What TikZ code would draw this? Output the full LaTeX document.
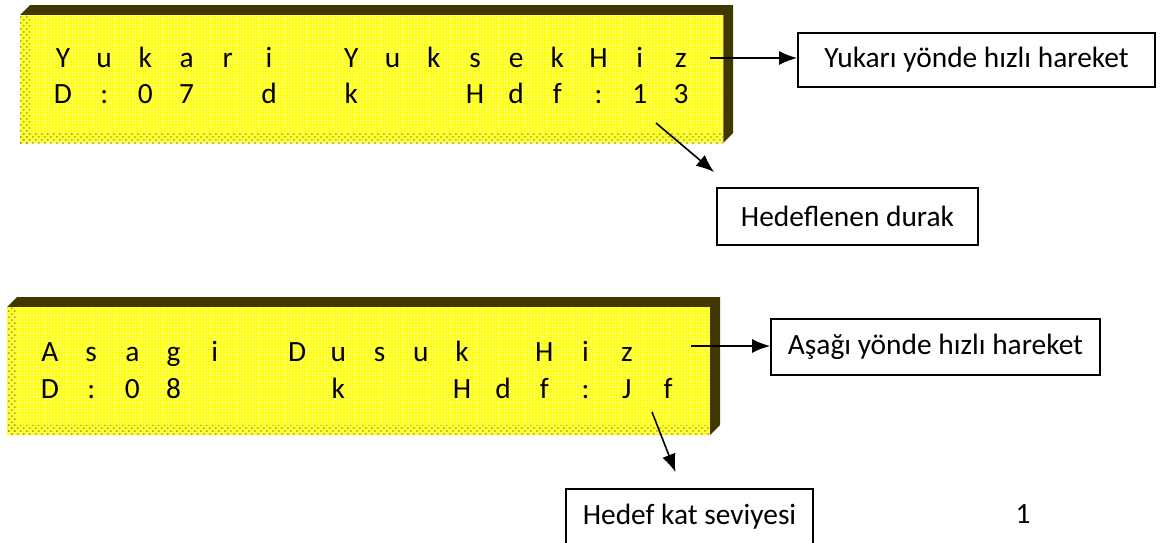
\documentclass[tikz,border=0pt]{standalone}
\usepackage{fontspec}
\setmainfont{Carlito}
\usetikzlibrary{arrows.meta,patterns}
\definecolor{jaune}{RGB}{255,255,0}
\definecolor{olive sombre}{RGB}{64,56,0}
\definecolor{olive clair}{RGB}{150,140,0}
\begin{document}
\begin{tikzpicture}[x=0.5pt,y=-0.5pt]
	\tikzstyle{fleche}=[-{Latex[length=9pt,width=7pt]},line width=0.8pt]
	\tikzstyle{cadre}=[draw,line width=0.9pt,inner sep=0pt,font=\fontsize{14.7}{17}\selectfont]
	\tikzstyle{caractere}=[anchor=base,inner sep=0pt,font=\fontsize{14.7}{17}\selectfont]
	\tikzstyle{facette}=[fill=olive sombre]
	\tikzstyle{trame}=[pattern=crosshatch dots,pattern color=olive clair]
	\def\LargeurEcran{703}\def\HauteurEcran{128}\def\Profondeur{10}
	\def\PasCaractere{41.2}
	\def\DessinerEcran#1#2{%
		\fill[facette] (#1,#2) -- ++(\Profondeur,-\Profondeur) -- ++(\LargeurEcran,0)
			-- ++(0,\HauteurEcran) -- ++(-\Profondeur,\Profondeur) -- cycle;
		\fill[jaune] (#1,#2) rectangle ({#1+\LargeurEcran},{#2+\HauteurEcran});
		\fill[trame] (#1,#2) rectangle ({#1+\Profondeur},{#2+\HauteurEcran});
		\fill[trame] (#1,{#2+\HauteurEcran-\Profondeur}) rectangle ({#1+\LargeurEcran},{#2+\HauteurEcran});
		\draw[white,opacity=0.35,line width=0.2pt,step=1.5pt] (#1,#2) grid ({#1+\LargeurEcran},{#2+\HauteurEcran});}
	\useasboundingbox (0,0) rectangle (1168,542);
	% premier ecran
	\DessinerEcran{20}{15}
	\foreach \c [count=\i from 0] in {Y,u,k,a,r,i,{},Y,u,k,s,e,k,H,i,z}
		\node[caractere] (hautA-\i) at ({63+\i*\PasCaractere},67) {\c};
	\foreach \c [count=\i from 0] in {D,:,0,7,{},d,{},k,{},{},H,d,f,:,1,3}
		\node[caractere] (basA-\i) at ({63+\i*\PasCaractere},103) {\c};
	% second ecran
	\DessinerEcran{7}{307}
	\foreach \c [count=\i from 0] in {A,s,a,g,i,{},D,u,s,u,k,{},H,i,z}
		\node[caractere] (hautB-\i) at ({50+\i*\PasCaractere},361) {\c};
	\foreach \c [count=\i from 0] in {D,:,0,8,{},{},{},k,{},{},H,d,f,:,J,f}
		\node[caractere] (basB-\i) at ({50+\i*\PasCaractere},398) {\c};
	% cadres
	\node[cadre,minimum width=178.5pt,minimum height=27pt] (hareket-yukari) at (976.5,60) {Yukarı yönde hızlı hareket};
	\node[cadre,minimum width=130.5pt,minimum height=28.5pt] (hedef-durak) at (847.5,216.5) {Hedeflenen durak};
	\node[cadre,minimum width=164.5pt,minimum height=28pt] (hareket-asagi) at (935.5,347) {Aşağı yönde hızlı hareket};
	\node[cadre,minimum width=123.5pt,minimum height=28pt] (hedef-kat) at (689.5,517) {Hedef kat seviyesi};
	\node[caractere] (numero) at (1023,523) {1};
	% fleches
	\coordinate (depart-yukari) at (710,58);
	\coordinate (depart-durak) at (656,123);
	\coordinate (depart-asagi) at (691,346);
	\coordinate (depart-kat) at (652,412);
	\draw[fleche] (depart-yukari) -- (depart-yukari -| hareket-yukari.west);
	\draw[fleche] (depart-durak) -- ([shift={(-2,-15)}]hedef-durak.north west);
	\draw[fleche] (depart-asagi) -- (depart-asagi -| hareket-asagi.west);
	\draw[fleche] (depart-kat) -- ([shift={(-14,-16)}]hedef-kat.north);
\end{tikzpicture}
\end{document}
